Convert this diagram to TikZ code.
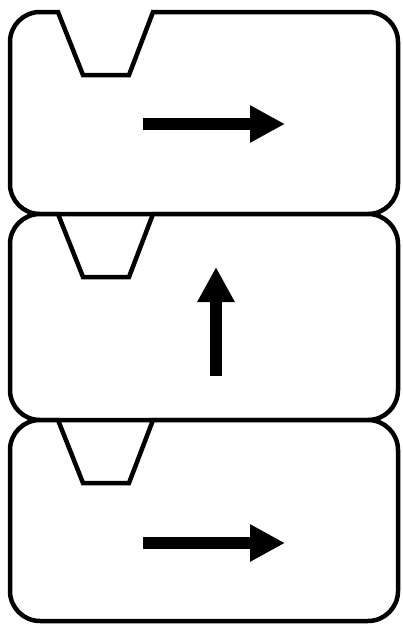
\documentclass[tikz,border=0pt]{standalone}
\usepackage{tikz}
\usetikzlibrary{arrows.meta}

\begin{document}
\begin{tikzpicture}[
    x=1pt, y=-1pt,
    block/.style={draw, line width=4.5pt, fill=white, line join=miter},
    arr/.style={line width=12pt, -{Triangle[length=35pt, width=35pt]}},
]
\useasboundingbox (0,0) rectangle (402,624);

% three stacked blocks, each with a notch on top
\foreach \t/\b in {12/214, 214/420, 420/621} {
    \draw[block] (40,\t) -- (58,\t) -- (83,\t+63) -- (129,\t+63) -- (153,\t) -- (368,\t)
        arc[start angle=-90, end angle=0, radius=30] -- (398,\b-30)
        arc[start angle=0, end angle=90, radius=30] -- (40,\b)
        arc[start angle=90, end angle=180, radius=30] -- (10,\t+30)
        arc[start angle=180, end angle=270, radius=30] -- cycle;
}

\coordinate (a1) at (143,124);
\coordinate (b1) at (285,124);
\coordinate (a2) at (216,376);
\coordinate (b2) at (216,267);
\coordinate (a3) at (143,543);
\coordinate (b3) at (285,543);

\draw[arr] (a1) -- (b1);
\draw[arr] (a2) -- (b2);
\draw[arr] (a3) -- (b3);
\end{tikzpicture}
\end{document}
